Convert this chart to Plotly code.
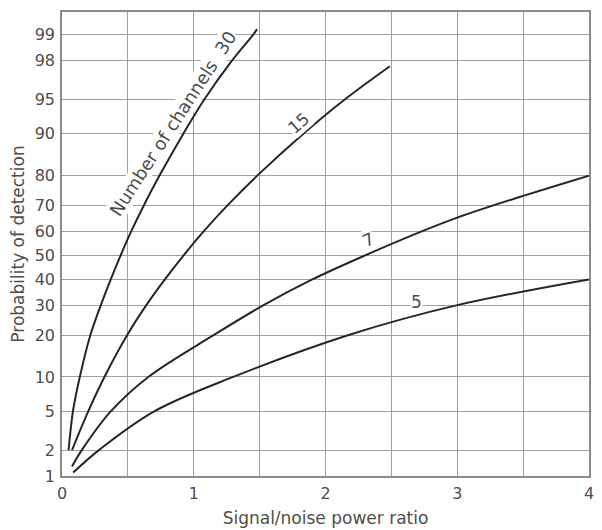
import plotly.graph_objects as go
from statistics import NormalDist

# Escala de papel probabilistico (normal)
def probit(p):
    return NormalDist().inv_cdf(p / 100.0)

# Datos (relacion S/N, probabilidad %)
snr_30 = [0.05, 0.083, 0.135, 0.215, 0.295, 0.37, 0.445, 0.525, 0.62, 0.74, 0.92, 1.08, 1.29, 1.45, 1.48]
pd_30 = [2, 5, 10, 20, 30, 40, 50, 60, 70, 80, 90, 95, 98, 99, 99.15]

snr_15 = [0.076, 0.199, 0.322, 0.494, 0.64, 0.781, 0.923, 1.075, 1.254, 1.482, 1.83, 2.146, 2.489]
pd_15 = [2, 5, 10, 20, 30, 40, 50, 60, 70, 80, 90, 95, 97.7]

snr_7 = [0.076, 0.15, 0.37, 0.655, 1.15, 1.53, 1.9, 2.3, 2.73, 3.0, 3.5, 4.0]
pd_7 = [1.3, 2, 5, 10, 20, 30, 40, 50, 60, 65.5, 73.5, 80]

snr_5 = [0.085, 0.28, 0.70, 1.3, 2.17, 3.0, 4.0]
pd_5 = [1.1, 2, 5, 10, 20, 30, 40]

y_ticks = [1, 2, 5, 10, 20, 30, 40, 50, 60, 70, 80, 90, 95, 98, 99]
x_ticks = [0, 0.5, 1, 1.5, 2, 2.5, 3, 3.5, 4]
x_labels = ["0", "", "1", "", "2", "", "3", "", "4"]

curvas = [(snr_30, pd_30), (snr_15, pd_15), (snr_7, pd_7), (snr_5, pd_5)]

txt_color = "#4d4d4d"
grid_color = "#a0a0a0"
fnt = "DejaVu Sans"

fig = go.Figure()

for sx, sy in curvas:
    fig.add_trace(go.Scatter(
        x=sx, y=[probit(v) for v in sy],
        mode="lines",
        line=dict(color="#262626", width=2, shape="spline", smoothing=1.0),
        showlegend=False, hoverinfo="skip",
    ))

# Etiquetas de las curvas (fondo blanco corta la reticula)
# texto, x, prob, angulo, tamano, desplazamiento x/y en px
etiquetas = [
    ("Number of channels  30", 0.918, 91.1, -57, 18, -10, 4),
    ("15", 1.814, 91.5, -41, 17, -2, 2),
    ("7", 2.338, 55.2, -25, 17, -2, 3),
    ("5", 2.69, 30.0, 0, 17, 0, 3),
]
for t, ax, ay, ang, sz, dx, dy in etiquetas:
    fig.add_annotation(
        x=ax, y=probit(ay), text=t, showarrow=False, textangle=ang,
        xshift=dx, yshift=dy,
        font=dict(family=fnt, size=sz, color=txt_color),
        bgcolor="white", borderpad=0,
    )

fig.update_layout(
    width=594, height=522,
    margin=dict(l=54, r=13, t=2, b=54),
    paper_bgcolor="white", plot_bgcolor="white",
    font=dict(family=fnt, size=16, color=txt_color),
)

fig.update_xaxes(
    range=[0, 4], tickvals=x_ticks, ticktext=x_labels,
    showgrid=True, gridcolor=grid_color, gridwidth=1.3,
    showline=True, mirror=True, linecolor="#8c8c8c", linewidth=1.5,
    zeroline=False, ticks="", ticklabelstandoff=2,
    title=dict(text="Signal/noise power ratio", standoff=10,
               font=dict(family=fnt, size=17, color=txt_color)),
)
fig.update_yaxes(
    range=[probit(1.0), 2.567],
    tickvals=[probit(v) for v in y_ticks], ticktext=[str(v) for v in y_ticks],
    showgrid=True, gridcolor=grid_color, gridwidth=1.3,
    showline=True, mirror=True, linecolor="#8c8c8c", linewidth=1.5,
    zeroline=False, ticks="", ticklabelstandoff=2,
    title=dict(text="Probability of detection", standoff=11,
               font=dict(family=fnt, size=17, color=txt_color)),
)

fig.write_html("out.html")
